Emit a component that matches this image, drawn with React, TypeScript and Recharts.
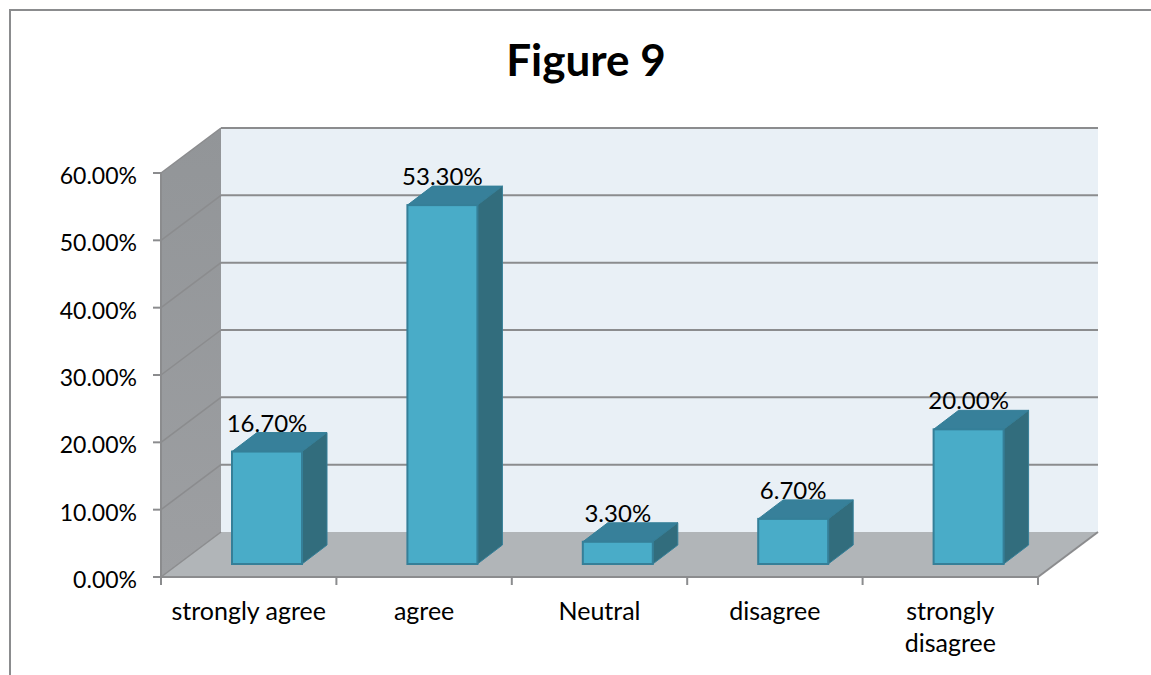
import { BarChart, Bar, XAxis, YAxis, CartesianGrid } from "recharts";

const categories = ["strongly agree", "agree", "Neutral", "disagree", "strongly disagree"];
const shares = [16.7, 53.3, 3.3, 6.7, 20.0];
const yTicks = [0, 10, 20, 30, 40, 50, 60];

const data = categories.map((name, i) => ({ name, share: shares[i] }));

const FONT = "Lato, 'Open Sans', sans-serif";
const AXIS_GREY = "#8b8c8e";
const CHART_W = 1151;
const CHART_H = 675;
// front plane of the plot
const PLOT_X = 161;
const PLOT_Y = 173;
const PLOT_W = 877;
const PLOT_H = 404;
// how far the back wall sits behind the front plane
const DEPTH_X = 60;
const DEPTH_Y = 45;
// the bars stand in the middle of the floor and are shallower than it
const BAR_SHIFT_X = 18;
const BAR_SHIFT_Y = 13;
const BAR_DEPTH_X = 25;
const BAR_DEPTH_Y = 19;

const pts = (list: number[][]) => list.map((p) => p.join(",")).join(" ");

// back wall, side wall and floor, sitting under the chart's own svg
function Walls() {
    const x = PLOT_X;
    const y = PLOT_Y;
    const right = PLOT_X + PLOT_W;
    const bottom = PLOT_Y + PLOT_H;
    return (
        <svg width={CHART_W} height={CHART_H} style={{ position: "absolute", left: 0, top: 0 }}>
            <defs>
                <linearGradient id="sideWall" x1="0" y1="0" x2="0" y2="1">
                    <stop offset="0%" stopColor="#929598" />
                    <stop offset="100%" stopColor="#9d9fa2" />
                </linearGradient>
            </defs>
            <polygon
                points={pts([[x + DEPTH_X, y - DEPTH_Y], [right + DEPTH_X, y - DEPTH_Y], [right + DEPTH_X, bottom - DEPTH_Y], [x + DEPTH_X, bottom - DEPTH_Y]])}
                fill="#e9f0f6"
            />
            <polygon
                points={pts([[x, y], [x + DEPTH_X, y - DEPTH_Y], [x + DEPTH_X, bottom - DEPTH_Y], [x, bottom]])}
                fill="url(#sideWall)"
            />
            <polygon
                points={pts([[x, bottom], [x + DEPTH_X, bottom - DEPTH_Y], [right + DEPTH_X, bottom - DEPTH_Y], [right, bottom]])}
                fill="#b1b5b8"
            />
            <line x1={right} y1={bottom} x2={right + DEPTH_X} y2={bottom - DEPTH_Y} stroke={AXIS_GREY} strokeWidth={2} />
        </svg>
    );
}

// a gridline runs up the side wall and then along the back wall
function GridLine(props: any) {
    const { x1, x2, y1 } = props;
    const isFloor = y1 > PLOT_Y + PLOT_H - 5;
    return (
        <g>
            <line x1={x1} y1={y1} x2={x1 + DEPTH_X} y2={y1 - DEPTH_Y} stroke={AXIS_GREY} strokeWidth={1.5} />
            {!isFloor && (
                <line x1={x1 + DEPTH_X} y1={y1 - DEPTH_Y} x2={x2 + DEPTH_X} y2={y1 - DEPTH_Y} stroke={AXIS_GREY} strokeWidth={2} />
            )}
        </g>
    );
}

function Box3D(props: any) {
    const { x, y, width, height, value } = props;
    const left = x + BAR_SHIFT_X;
    const right = left + width;
    const top = y - BAR_SHIFT_Y;
    const bottom = top + height;
    return (
        <g>
            {/* the value sits behind the box, so the top face cuts into it */}
            <text x={left + width / 2} y={top - 20} textAnchor="middle" fontFamily={FONT} fontSize={24} fill="#000">
                {value.toFixed(2) + "%"}
            </text>
            <polygon
                points={pts([[left, top], [left + BAR_DEPTH_X, top - BAR_DEPTH_Y], [right + BAR_DEPTH_X, top - BAR_DEPTH_Y], [right, top]])}
                fill="#37809a"
                stroke="#357f98"
                strokeWidth={1}
            />
            <polygon
                points={pts([[right, top], [right + BAR_DEPTH_X, top - BAR_DEPTH_Y], [right + BAR_DEPTH_X, bottom - BAR_DEPTH_Y], [right, bottom]])}
                fill="#326d7d"
                stroke="#357f98"
                strokeWidth={1}
            />
            <rect x={left} y={top} width={width} height={height} fill="#49acc8" stroke="#357f98" strokeWidth={2} />
        </g>
    );
}

function CategoryTick(props: any) {
    const { x, payload, index } = props;
    const band = PLOT_W / categories.length;
    const isLast = index === categories.length - 1;
    const axisY = PLOT_Y + PLOT_H;
    // long labels break onto two lines
    const lines: string[] = payload.value.length > 14 ? payload.value.split(" ") : [payload.value];
    return (
        <g>
            <line x1={x - band / 2} y1={axisY} x2={x - band / 2} y2={axisY + 8} stroke={AXIS_GREY} strokeWidth={2} />
            {isLast && <line x1={x + band / 2} y1={axisY} x2={x + band / 2} y2={axisY + 8} stroke={AXIS_GREY} strokeWidth={2} />}
            <text textAnchor="middle" fontFamily={FONT} fontSize={25} fill="#000">
                {lines.map((line, i) => (
                    <tspan key={line} x={x} y={axisY + 43 + i * 32}>
                        {line}
                    </tspan>
                ))}
            </text>
        </g>
    );
}

function ValueTick(props: any) {
    const { x, y, payload } = props;
    return (
        <text x={x} y={y + 11} textAnchor="end" fontFamily={FONT} fontSize={23} fill="#000">
            {payload.value.toFixed(2) + "%"}
        </text>
    );
}

export default function App() {
    return (
        <div style={{ position: "absolute", left: 0, top: 0, width: CHART_W, height: CHART_H, overflow: "hidden", background: "#fff" }}>
            <div style={{ position: "absolute", left: 9, top: 9, width: 1200, height: 720, borderLeft: `2px solid ${AXIS_GREY}`, borderTop: `2px solid ${AXIS_GREY}` }} />
            <div style={{ position: "absolute", left: 0, top: 34, width: 1172, textAlign: "center", fontFamily: FONT, fontWeight: 700, fontSize: 44, lineHeight: "50px", color: "#000" }}>
                Figure 9
            </div>
            <Walls />
            <BarChart
                width={CHART_W}
                height={CHART_H}
                data={data}
                barSize={70}
                margin={{ top: PLOT_Y, right: CHART_W - PLOT_X - PLOT_W, bottom: CHART_H - PLOT_Y - PLOT_H - 60, left: PLOT_X - 100 }}
                style={{ position: "absolute", left: 0, top: 0 }}
            >
                <CartesianGrid vertical={false} stroke={AXIS_GREY} horizontal={(p: any) => <GridLine key={p.key} {...p} />} />
                <XAxis dataKey="name" height={60} axisLine={{ stroke: AXIS_GREY, strokeWidth: 2 }} tickLine={false} tick={<CategoryTick />} interval={0} />
                <YAxis
                    width={100}
                    domain={[0, 60]}
                    ticks={yTicks}
                    interval={0}
                    axisLine={{ stroke: AXIS_GREY, strokeWidth: 2 }}
                    tickLine={{ stroke: AXIS_GREY, strokeWidth: 2 }}
                    tickSize={8}
                    tickMargin={16}
                    tick={<ValueTick />}
                />
                <Bar dataKey="share" shape={<Box3D />} isAnimationActive={false} />
            </BarChart>
        </div>
    );
}
